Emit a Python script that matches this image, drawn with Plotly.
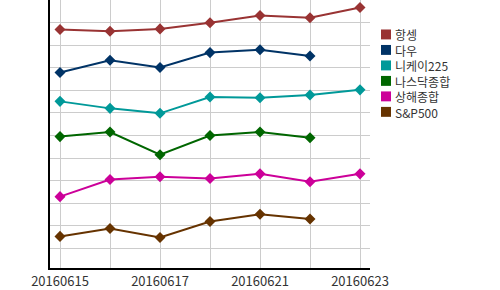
import plotly.graph_objects as go

dates = ["20160615", "20160616", "20160617", "20160620", "20160621", "20160622", "20160623"]
names = ["항셍", "다우", "니케이225", "나스닥종합", "상해종합", "S&P500"]
colors = ["#993333", "#003366", "#009999", "#006600", "#CC0099", "#663300"]

hangseng = [9.69, 9.62, 9.72, 9.99, 10.31, 10.21, 10.67]
dow = [7.79, 8.33, 8.01, 8.67, 8.80, 8.52, None]
nikkei = [6.51, 6.20, 5.98, 6.70, 6.67, 6.79, 7.02]
nasdaq = [4.95, 5.15, 4.15, 5.00, 5.15, 4.90, None]
shanghai = [2.29, 3.05, 3.17, 3.09, 3.30, 2.95, 3.30]
sp500 = [0.53, 0.88, 0.48, 1.19, 1.51, 1.30, None]
series = [hangseng, dow, nikkei, nasdaq, shanghai, sp500]

fig = go.Figure()
for name, color, vals in zip(names, colors, series):
    fig.add_trace(go.Scatter(
        x=dates, y=vals, name=name, mode="lines+markers",
        line=dict(color=color, width=2),
        marker=dict(symbol="diamond", size=8.5, color=color),
        showlegend=False, connectgaps=False,
    ))

# legend drawn as swatches + one multi-line label block
leg_x0 = 381
leg_y0 = 34.7
leg_step = 15.6
W, H, L = 320, 270, 50
for i, color in enumerate(colors):
    cy = leg_y0 + i * leg_step
    fig.add_shape(type="rect", xref="paper", yref="paper",
                  x0=(leg_x0 - L) / W, x1=(leg_x0 + 10 - L) / W,
                  y0=(H - (cy + 5)) / H, y1=(H - (cy - 5)) / H,
                  fillcolor=color, line=dict(width=0))
mid = leg_y0 + (len(names) - 1) * leg_step / 2
fig.add_annotation(xref="paper", yref="paper",
                   x=(leg_x0 + 13 - L) / W, y=(H - mid) / H,
                   text="<br>".join(n.replace("&", "&amp;") for n in names),
                   showarrow=False, xanchor="left", yanchor="middle", align="left",
                   borderpad=0,
                   font=dict(family="Noto Sans CJK KR", size=12, color="#333333"))

ticktext = [d if i % 2 == 0 else "" for i, d in enumerate(dates)]
fig.update_layout(
    width=500, height=290,
    margin=dict(l=50, r=130, t=0, b=20),
    paper_bgcolor="white", plot_bgcolor="white",
    font=dict(family="Noto Sans CJK KR", size=13, color="#333333"),
    xaxis=dict(type="category", categoryorder="array", categoryarray=dates,
               range=[-0.2, 6.2], tickvals=dates, ticktext=ticktext,
               showgrid=True, gridcolor="#cccccc", gridwidth=1,
               showline=True, linecolor="black", linewidth=2,
               ticks="", ticklen=0, zeroline=False,
               tickfont=dict(family="Noto Sans CJK KR", size=13, color="#333333")),
    yaxis=dict(range=[-0.87, 11.0], tick0=0, dtick=1,
               showgrid=True, gridcolor="#cccccc", gridwidth=1,
               showline=True, linecolor="black", linewidth=2,
               showticklabels=False, ticks="", zeroline=False),
    showlegend=False,
)

fig.write_html("out.html")
